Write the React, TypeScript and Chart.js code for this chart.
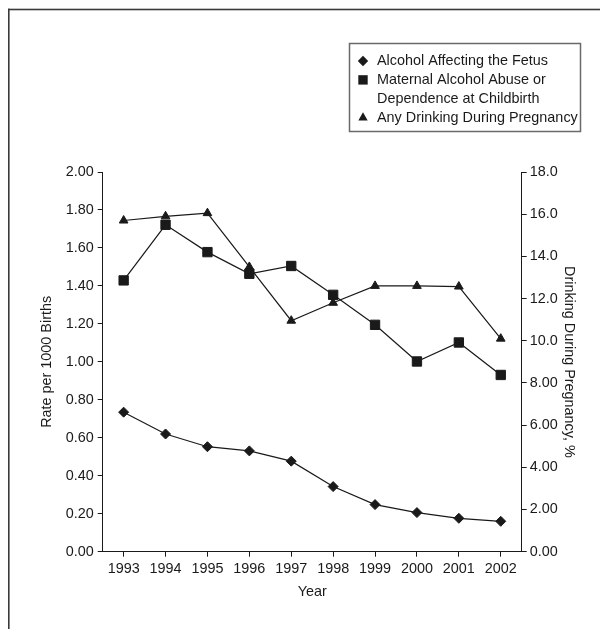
import React, { useEffect, useRef } from 'react';
import { Chart, registerables } from 'chart.js';

Chart.register(...registerables);

const years = ['1993', '1994', '1995', '1996', '1997', '1998', '1999', '2000', '2001', '2002'];
const alcoholAffectingFetus = [0.735, 0.62, 0.553, 0.531, 0.477, 0.343, 0.248, 0.206, 0.176, 0.16];
const maternalAbuse = [1.429, 1.722, 1.578, 1.464, 1.505, 1.353, 1.195, 1.002, 1.102, 0.931];
const anyDrinking = [15.7, 15.9, 16.05, 13.5, 10.95, 11.8, 12.6, 12.6, 12.57, 10.1];
const leftTickLabels = ['0.00', '0.20', '0.40', '0.60', '0.80', '1.00', '1.20', '1.40', '1.60', '1.80', '2.00'];
const rightTickLabels = ['0.00', '2.00', '4.00', '6.00', '8.00', '10.0', '12.0', '14.0', '16.0', '18.0'];
const legendLabels = [
  ['Alcohol Affecting the Fetus'],
  ['Maternal Alcohol Abuse or', 'Dependence at Childbirth'],
  ['Any Drinking During Pregnancy'],
];
const legendMarkers = ['diamond', 'square', 'triangle'];

const FONT = '"Liberation Sans", Arial, sans-serif';
const FONT_SIZE = 14.4;
const INK = '#1a1a1a';

function drawMarker(ctx: CanvasRenderingContext2D, kind: string, x: number, y: number) {
  ctx.beginPath();
  if (kind === 'diamond') {
    const r = 5.2;
    ctx.moveTo(x, y - r);
    ctx.lineTo(x + r, y);
    ctx.lineTo(x, y + r);
    ctx.lineTo(x - r, y);
    ctx.closePath();
  } else if (kind === 'square') {
    const h = 4.7;
    ctx.rect(x - h, y - h, 2 * h, 2 * h);
  } else {
    const r = 5.4;
    ctx.moveTo(x, y - r);
    ctx.lineTo(x + r * 0.866, y + r / 2);
    ctx.lineTo(x - r * 0.866, y + r / 2);
    ctx.closePath();
  }
  ctx.fillStyle = INK;
  ctx.fill();
}

const decorPlugin = {
  id: 'decor',
  beforeDraw(chart: any) {
    const ctx = chart.ctx as CanvasRenderingContext2D;
    ctx.save();
    ctx.fillStyle = '#ffffff';
    ctx.fillRect(0, 0, chart.width, chart.height);
    ctx.fillStyle = '#3a3a3a';
    ctx.fillRect(8, 8.7, chart.width - 8, 1.6);
    ctx.fillRect(8, 8.7, 1.6, chart.height - 8);
    ctx.restore();
  },
  afterDraw(chart: any) {
    const ctx = chart.ctx as CanvasRenderingContext2D;
    ctx.save();
    ctx.strokeStyle = '#6a6a6a';
    ctx.lineWidth = 1.5;
    ctx.strokeRect(349.5, 43.5, 231, 88);
    ctx.font = FONT_SIZE + 'px ' + FONT;
    ctx.textBaseline = 'middle';
    ctx.textAlign = 'left';
    let y = 61;
    const lineH = 18.9;
    legendLabels.forEach((lines, i) => {
      drawMarker(ctx, legendMarkers[i], 363, y);
      ctx.fillStyle = INK;
      lines.forEach((t, j) => {
        ctx.fillText(t, 377, y + j * lineH);
      });
      y += lines.length * lineH;
    });
    ctx.restore();
  },
};

export default function App() {
  const ref = useRef<HTMLCanvasElement | null>(null);

  useEffect(() => {
    if (!ref.current) return;
    const tickFont = { family: FONT, size: FONT_SIZE };
    const chart = new Chart(ref.current, {
      type: 'line',
      data: {
        labels: years,
        datasets: [
          {
            label: 'Alcohol Affecting the Fetus',
            data: alcoholAffectingFetus,
            yAxisID: 'y',
            borderColor: INK,
            borderWidth: 1.2,
            pointStyle: 'rectRot',
            pointRadius: 5,
            pointBorderWidth: 1,
            pointBackgroundColor: INK,
            pointBorderColor: INK,
            fill: false,
            tension: 0,
          },
          {
            label: 'Maternal Alcohol Abuse or Dependence at Childbirth',
            data: maternalAbuse,
            yAxisID: 'y',
            borderColor: INK,
            borderWidth: 1.2,
            pointStyle: 'rect',
            pointRadius: 6.6,
            pointBorderWidth: 1,
            pointBackgroundColor: INK,
            pointBorderColor: INK,
            fill: false,
            tension: 0,
          },
          {
            label: 'Any Drinking During Pregnancy',
            data: anyDrinking,
            yAxisID: 'y1',
            borderColor: INK,
            borderWidth: 1.2,
            pointStyle: 'triangle',
            pointRadius: 5,
            pointBorderWidth: 1,
            pointBackgroundColor: INK,
            pointBorderColor: INK,
            fill: false,
            tension: 0,
          },
        ],
      },
      options: {
        animation: false,
        responsive: true,
        maintainAspectRatio: false,
        devicePixelRatio: 1,
        layout: { padding: { top: 172, left: 0, right: 0, bottom: 0 } },
        plugins: {
          legend: { display: false },
          tooltip: { enabled: false },
        },
        scales: {
          x: {
            type: 'category',
            offset: true,
            grid: { display: true, drawOnChartArea: false, drawTicks: true, tickLength: 5, tickColor: INK, offset: false },
            border: { display: true, color: INK, width: 1 },
            ticks: { font: tickFont, color: INK, padding: 4, maxRotation: 0, autoSkip: false },
            title: { display: true, text: 'Year', font: tickFont, color: INK, padding: { top: 0, bottom: 28.5 } },
            afterFit: (s: any) => { s.height = 77.3; },
          },
          y: {
            type: 'linear',
            position: 'left',
            min: 0,
            max: 2,
            ticks: {
              stepSize: 0.2,
              font: tickFont,
              color: INK,
              padding: 4,
              callback: (_v: any, i: number) => leftTickLabels[i],
            },
            grid: { display: true, drawOnChartArea: false, drawTicks: true, tickLength: 5, tickColor: INK },
            border: { display: true, color: INK, width: 1 },
            title: { display: true, text: 'Rate per 1000 Births', font: tickFont, color: INK, padding: { top: 38.5, bottom: 0 } },
            afterFit: (s: any) => { s.width = 102.7; },
          },
          y1: {
            type: 'linear',
            position: 'right',
            min: 0,
            max: 18,
            ticks: {
              stepSize: 2,
              font: tickFont,
              color: INK,
              padding: 3,
              callback: (_v: any, i: number) => rightTickLabels[i],
            },
            grid: { display: true, drawOnChartArea: false, drawTicks: true, tickLength: 5, tickColor: INK },
            border: { display: true, color: INK, width: 1 },
            title: { display: true, text: 'Drinking During Pregnancy, %', font: tickFont, color: INK, padding: { top: 22.5, bottom: 0 } },
            afterFit: (s: any) => { s.width = 78.3; },
          },
        },
      },
      plugins: [decorPlugin],
    });
    return () => chart.destroy();
  }, []);

  return (
    <div style={{ position: 'absolute', left: 0, top: 0, width: 600, height: 629 }}>
      <canvas ref={ref} />
    </div>
  );
}
